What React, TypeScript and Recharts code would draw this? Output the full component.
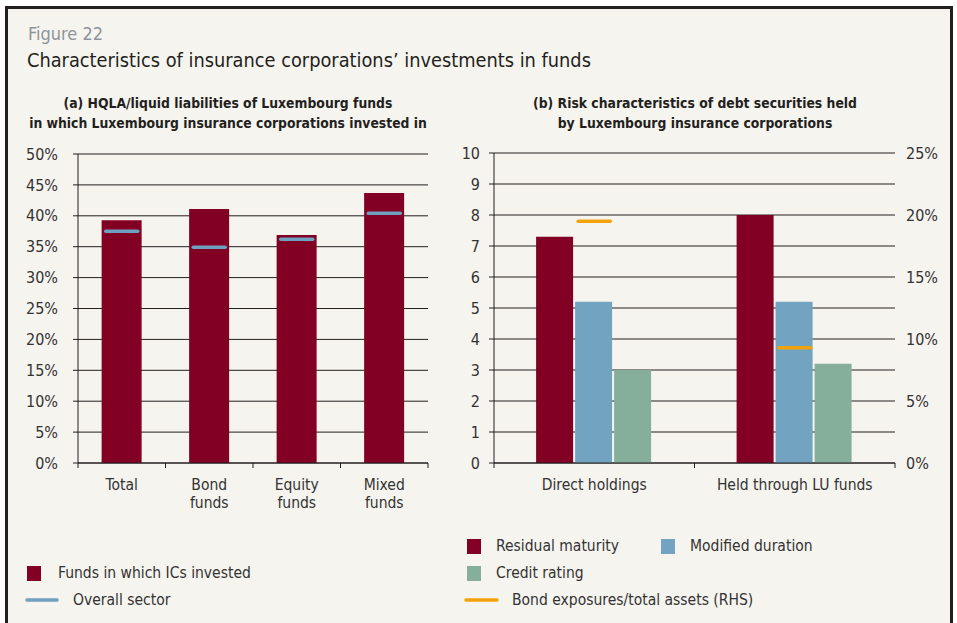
import { ComposedChart, Bar, Line, XAxis, YAxis, CartesianGrid } from 'recharts'

const fundCategories = ['Total', 'Bond\nfunds', 'Equity\nfunds', 'Mixed\nfunds']
const fundsInvested = [39.3, 41.1, 36.9, 43.7]
const overallSector = [37.5, 34.9, 36.2, 40.4]
const pctTicks = [0, 5, 10, 15, 20, 25, 30, 35, 40, 45, 50]

const holdingCategories = ['Direct holdings', 'Held through LU funds']
const residualMaturity = [7.3, 8.0]
const modifiedDuration = [5.2, 5.2]
const creditRating = [3.0, 3.2]
const bondExposures = [19.5, 9.3]
const leftTicks = [0, 1, 2, 3, 4, 5, 6, 7, 8, 9, 10]
const rightTicks = [0, 5, 10, 15, 20, 25]

const FONT = "'Liberation Sans Narrow', 'DejaVu Sans Condensed', Roboto, sans-serif"
const INK = '#231f20'
const TXT = '#333333'
const MAROON = '#820024'
const BLUE = '#72a4c2'
const GREEN = '#86af9b'
const ORANGE = '#f0a30a'
const SECTOR = '#6ea0bf'

const fundData = fundCategories.map((name, i) => ({ name, invested: fundsInvested[i], sector: overallSector[i] }))
const holdingData = holdingCategories.map((name, i) => ({
  name,
  residual: residualMaturity[i],
  modified: modifiedDuration[i],
  credit: creditRating[i],
  bond: bondExposures[i]
}))

// category tick: label lines + tick marks on the band edges
function bandTick(count: number, halfBand: number) {
  return (props: any) => {
    const { x, y, payload } = props
    const idx = props.index ?? payload.index ?? 0
    const half = typeof payload.offset === 'number' && payload.offset > 5 ? payload.offset : halfBand
    const lines = String(payload.value).split('\n')
    return (
      <g>
        <line x1={x - half} x2={x - half} y1={y} y2={y + 5} stroke={INK} />
        {idx === count - 1 && <line x1={x + half} x2={x + half} y1={y} y2={y + 5} stroke={INK} />}
        {lines.map((l, i) => (
          <text key={i} x={x} y={y + 27 + i * 18} textAnchor="middle" fill={TXT} fontSize={15.5} fontFamily={FONT}>
            {l}
          </text>
        ))}
      </g>
    )
  }
}

function dash(color: string) {
  return (p: any) => (
    <line key={p.index} x1={p.cx - 16} x2={p.cx + 16} y1={p.cy} y2={p.cy} stroke={color} strokeWidth={3.5} strokeLinecap="round" />
  )
}

const tickStyle = { fill: TXT, fontSize: 16, fontFamily: FONT }

export default function App() {
  return (
    <div style={{ position: 'absolute', left: 0, top: 0, width: 957, height: 623, overflow: 'hidden', background: '#fff' }}>
      <div
        style={{
          position: 'absolute',
          left: 5,
          top: 6,
          width: 948,
          height: 700,
          border: `3px solid ${INK}`,
          background: '#f6f4ef',
          boxSizing: 'border-box'
        }}
      />
      <svg width={957} height={623} style={{ position: 'absolute', left: 0, top: 0 }} fontFamily={FONT}>
        <text x={28} y={40} fontSize={18} fill="#8c949a">Figure 22</text>
        <text x={27} y={67} fontSize={19.8} fill={INK}>Characteristics of insurance corporations’ investments in funds</text>
        <text x={228} y={108} fontSize={13.8} fontWeight="bold" fill={INK} textAnchor="middle">(a) HQLA/liquid liabilities of Luxembourg funds</text>
        <text x={228} y={128} fontSize={13.8} fontWeight="bold" fill={INK} textAnchor="middle">in which Luxembourg insurance corporations invested in</text>
        <text x={695} y={108} fontSize={13.8} fontWeight="bold" fill={INK} textAnchor="middle">(b) Risk characteristics of debt securities held</text>
        <text x={695} y={128} fontSize={13.8} fontWeight="bold" fill={INK} textAnchor="middle">by Luxembourg insurance corporations</text>

        <rect x={27} y={566} width={14} height={15} fill={MAROON} />
        <text x={58} y={578} fontSize={15.5} fill={TXT}>Funds in which ICs invested</text>
        <line x1={27} x2={57} y1={600} y2={600} stroke={SECTOR} strokeWidth={3.5} strokeLinecap="round" />
        <text x={73} y={605} fontSize={15.5} fill={TXT}>Overall sector</text>

        <rect x={467} y={539} width={14} height={15} fill={MAROON} />
        <text x={496} y={551} fontSize={15.5} fill={TXT}>Residual maturity</text>
        <rect x={661} y={539} width={14} height={15} fill={BLUE} />
        <text x={690} y={551} fontSize={15.5} fill={TXT}>Modified duration</text>
        <rect x={467} y={566} width={14} height={15} fill={GREEN} />
        <text x={496} y={578} fontSize={15.5} fill={TXT}>Credit rating</text>
        <line x1={466} x2={497} y1={600} y2={600} stroke={ORANGE} strokeWidth={3.5} strokeLinecap="round" />
        <text x={512} y={605} fontSize={15.5} fill={TXT}>Bond exposures/total assets (RHS)</text>
      </svg>

      <div style={{ position: 'absolute', left: 0, top: 0 }}>
        <ComposedChart width={440} height={520} data={fundData} margin={{ top: 154, right: 12, bottom: 7, left: 20 }} barCategoryGap="27%">
          <CartesianGrid vertical={false} stroke={INK} strokeOpacity={1} />
          <XAxis
            dataKey="name"
            interval={0}
            height={50}
            tickSize={0}
            tickMargin={0}
            tickLine={false}
            axisLine={{ stroke: INK }}
            tick={bandTick(fundCategories.length, 350 / fundCategories.length / 2)}
          />
          <YAxis
            width={58}
            domain={[0, 50]}
            ticks={pctTicks}
            tickFormatter={(v: number) => `${v}%`}
            tickSize={5}
            tickMargin={15}
            tickLine={{ stroke: INK }}
            axisLine={{ stroke: INK }}
            tick={tickStyle}
          />
          <Bar dataKey="invested" fill={MAROON} isAnimationActive={false} />
          <Line dataKey="sector" stroke="none" dot={dash(SECTOR)} activeDot={false} legendType="none" isAnimationActive={false} />
        </ComposedChart>
      </div>

      <div style={{ position: 'absolute', left: 440, top: 0 }}>
        <ComposedChart width={517} height={520} data={holdingData} margin={{ top: 153, right: 12, bottom: 7, left: 14 }} barCategoryGap="21%" barGap={2}>
          <CartesianGrid vertical={false} stroke={INK} strokeOpacity={1} yAxisId="left" />
          <XAxis
            dataKey="name"
            interval={0}
            height={50}
            tickSize={0}
            tickMargin={0}
            tickLine={false}
            axisLine={{ stroke: INK }}
            tick={bandTick(holdingCategories.length, 401 / holdingCategories.length / 2)}
          />
          <YAxis
            yAxisId="left"
            width={40}
            domain={[0, 10]}
            ticks={leftTicks}
            tickSize={5}
            tickMargin={9}
            tickLine={{ stroke: INK }}
            axisLine={{ stroke: INK }}
            tick={tickStyle}
          />
          <YAxis
            yAxisId="right"
            orientation="right"
            width={50}
            domain={[0, 25]}
            ticks={rightTicks}
            tickFormatter={(v: number) => `${v}%`}
            tickSize={0}
            tickMargin={11}
            tickLine={false}
            axisLine={false}
            tick={tickStyle}
          />
          <Bar yAxisId="left" dataKey="residual" fill={MAROON} isAnimationActive={false} />
          <Bar yAxisId="left" dataKey="modified" fill={BLUE} isAnimationActive={false} />
          <Bar yAxisId="left" dataKey="credit" fill={GREEN} isAnimationActive={false} />
          <Line yAxisId="right" dataKey="bond" stroke="none" dot={dash(ORANGE)} activeDot={false} legendType="none" isAnimationActive={false} />
        </ComposedChart>
      </div>
    </div>
  )
}
